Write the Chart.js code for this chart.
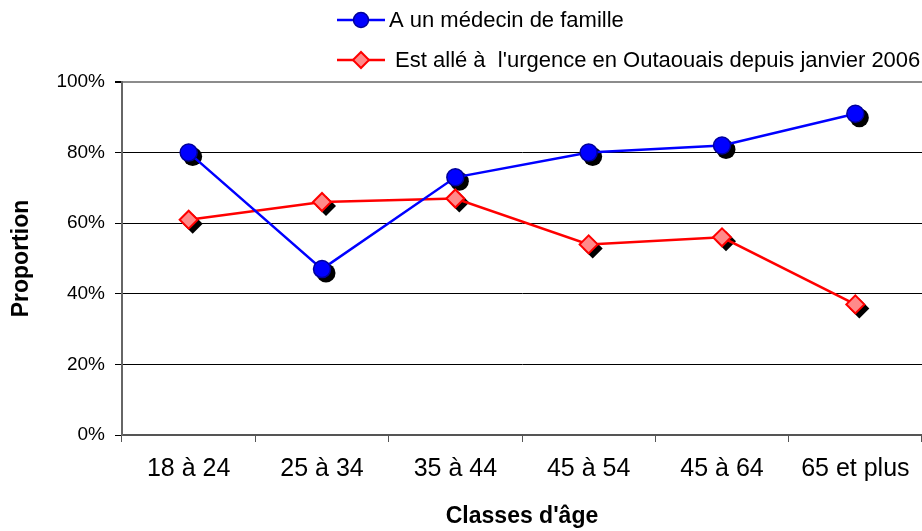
<!DOCTYPE html>
<html>
<head>
<meta charset="utf-8">
<script src="https://cdn.jsdelivr.net/npm/chart.js@4/dist/chart.umd.min.js"></script>
<style>
  body { margin: 0; background: #fff; }
  canvas { display: block; }
</style>
</head>
<body>
<canvas id="ageChart" width="922" height="531"></canvas>
<script>
const categories = ['18 à 24', '25 à 34', '35 à 44', '45 à 54', '45 à 64', '65 et plus'];
const seriesNames = ['A un médecin de famille', ' Est allé à  l\'urgence en Outaouais depuis janvier 2006'];
const medecinFamille = [80, 47, 73, 80, 82, 91];
const urgenceOutaouais = [61, 66, 67, 54, 56, 37];
const yTickValues = [0, 20, 40, 60, 80, 100];

const FONT = "'Liberation Sans', Arial, sans-serif";

// black offset copy of each marker, drawn under the lines
const markerShadow = {
    id: 'markerShadow',
    beforeDatasetsDraw(chart) {
        const ctx = chart.ctx;
        ctx.save();
        ctx.fillStyle = '#000';
        chart.data.datasets.forEach((ds, i) => {
            const meta = chart.getDatasetMeta(i);
            meta.data.forEach(pt => {
                const x = pt.x + 4, y = pt.y + 4;
                ctx.beginPath();
                if (ds.pointStyle === 'rectRot') {
                    const r = ds.pointRadius + 1;
                    ctx.moveTo(x - r, y);
                    ctx.lineTo(x, y - r);
                    ctx.lineTo(x + r, y);
                    ctx.lineTo(x, y + r);
                    ctx.closePath();
                } else {
                    ctx.arc(x, y, ds.pointRadius + 1, 0, Math.PI * 2);
                }
                ctx.fill();
            });
        });
        ctx.restore();
    }
};

// legend drawn as two stacked rows like the original
const lineLegend = {
    id: 'lineLegend',
    afterDraw(chart) {
        const ctx = chart.ctx;
        ctx.save();
        chart.data.datasets.forEach((ds, i) => {
            const y = 20 + i * 40;
            ctx.strokeStyle = ds.borderColor;
            ctx.lineWidth = 2.5;
            ctx.beginPath();
            ctx.moveTo(337, y);
            ctx.lineTo(385, y);
            ctx.stroke();
            ctx.fillStyle = ds.pointBackgroundColor;
            ctx.strokeStyle = ds.pointBorderColor;
            ctx.lineWidth = ds.pointBorderWidth;
            ctx.beginPath();
            if (ds.pointStyle === 'rectRot') {
                const r = 8;
                ctx.moveTo(361 - r, y);
                ctx.lineTo(361, y - r);
                ctx.lineTo(361 + r, y);
                ctx.lineTo(361, y + r);
                ctx.closePath();
            } else {
                ctx.arc(361, y, 7.5, 0, Math.PI * 2);
            }
            ctx.fill();
            ctx.stroke();
            ctx.fillStyle = '#000';
            ctx.font = '22px ' + FONT;
            ctx.textBaseline = 'middle';
            ctx.textAlign = 'left';
            ctx.fillText(ds.label, 389, y + 1);
        });
        ctx.restore();
    }
};

const ctx = document.getElementById('ageChart').getContext('2d');
const ageChart = new Chart(ctx, {
    type: 'line',
    data: {
        labels: categories,
        datasets: [{
            label: seriesNames[0],
            data: medecinFamille,
            borderColor: '#0000ff',
            borderWidth: 2.5,
            pointStyle: 'circle',
            pointRadius: 8.5,
            pointBackgroundColor: '#0000ff',
            pointBorderColor: '#00009a',
            pointBorderWidth: 1.5,
            tension: 0
        }, {
            label: seriesNames[1],
            data: urgenceOutaouais,
            borderColor: '#ff0000',
            borderWidth: 2.5,
            pointStyle: 'rectRot',
            pointRadius: 9,
            pointBackgroundColor: '#ff8a8a',
            pointBorderColor: '#ff0000',
            pointBorderWidth: 2,
            tension: 0
        }]
    },
    options: {
        responsive: false,
        animation: false,
        devicePixelRatio: 1,
        layout: { autoPadding: false, padding: { top: 82, right: 0, left: 0, bottom: 0 } },
        scales: {
            x: {
                offset: true,
                afterFit: function(scale) {
                    scale.height = 96;
                    scale.paddingRight = 0;
                    scale.paddingLeft = 0;
                },
                grid: {
                    offset: true,
                    drawOnChartArea: false,
                    drawTicks: true,
                    tickLength: 7,
                    color: '#555'
                },
                border: { color: '#555', width: 2 },
                ticks: {
                    color: '#000',
                    padding: 12,
                    maxRotation: 0,
                    font: { family: FONT, size: 25 }
                },
                title: {
                    display: true,
                    text: 'Classes d\'âge',
                    color: '#000',
                    padding: { top: 0, bottom: 1 },
                    font: { family: FONT, size: 23, weight: 'bold' }
                }
            },
            y: {
                min: 0,
                max: 100,
                afterFit: function(scale) {
                    scale.width = 122;
                    scale.paddingTop = 0;
                    scale.paddingBottom = 0;
                },
                afterBuildTicks: function(scale) {
                    scale.ticks = yTickValues.map(v => ({ value: v }));
                },
                grid: {
                    drawTicks: true,
                    tickLength: 7,
                    color: function(c) {
                        if (c.tick && c.tick.value === 100) return '#8c8c8c';
                        if (c.tick && c.tick.value === 0) return 'rgba(0,0,0,0)';
                        return '#000';
                    },
                    lineWidth: function(c) {
                        return (c.tick && c.tick.value === 100) ? 2 : 1;
                    },
                    tickColor: '#000'
                },
                border: { color: '#666', width: 2 },
                ticks: {
                    color: '#000',
                    padding: 10,
                    font: { family: FONT, size: 19 },
                    callback: function(value) {
                        return value + '%';
                    }
                },
                title: {
                    display: true,
                    text: 'Proportion',
                    color: '#000',
                    padding: { top: 8, bottom: 0 },
                    font: { family: FONT, size: 23, weight: 'bold' }
                }
            }
        },
        plugins: {
            legend: { display: false },
            tooltip: { enabled: false }
        }
    },
    plugins: [markerShadow, lineLegend]
});
</script>
</body>
</html>
